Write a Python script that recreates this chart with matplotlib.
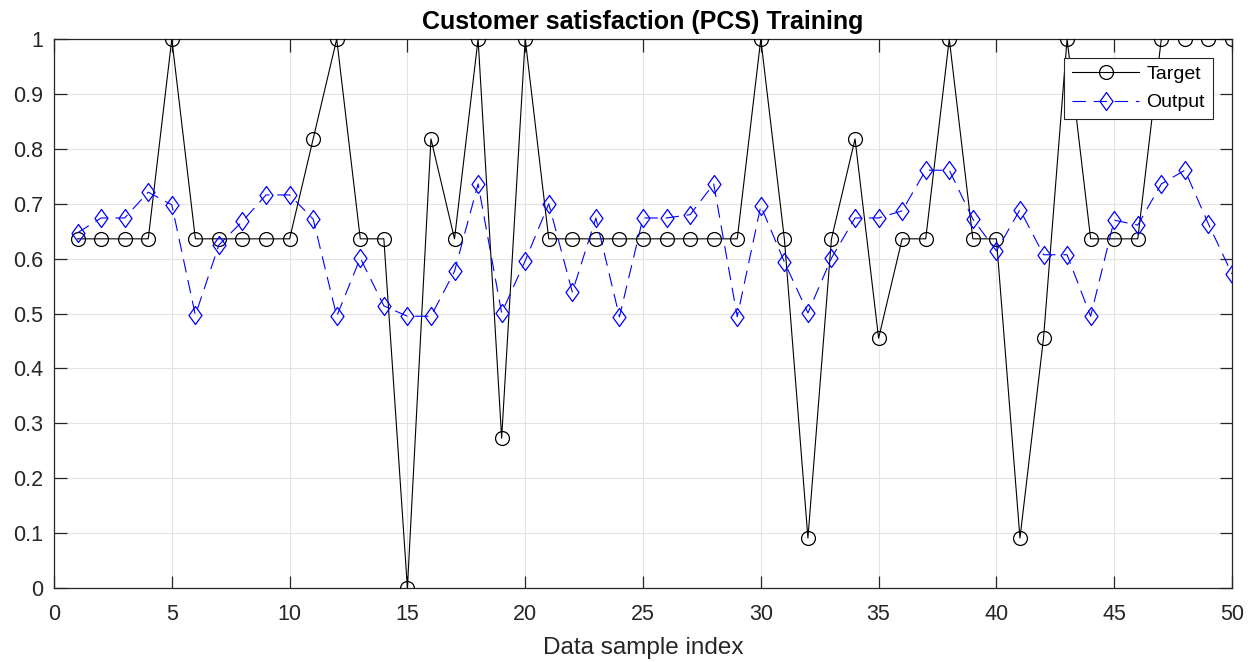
import numpy as np
import matplotlib
matplotlib.use("Agg")
import matplotlib.pyplot as plt
from matplotlib.path import Path

plt.rcParams['font.family'] = ['Liberation Sans', 'DejaVu Sans']

sample_index = list(range(1, 51))

target = [0.636, 0.636, 0.636, 0.636, 1.0, 0.636, 0.636, 0.636, 0.636, 0.636,
          0.818, 1.0, 0.636, 0.636, 0.0, 0.818, 0.636, 1.0, 0.273, 1.0,
          0.636, 0.636, 0.636, 0.636, 0.636, 0.636, 0.636, 0.636, 0.636, 1.0,
          0.636, 0.091, 0.636, 0.818, 0.455, 0.636, 0.636, 1.0, 0.636, 0.636,
          0.091, 0.455, 1.0, 0.636, 0.636, 0.636, 1.0, 1.0, 1.0, 1.0]

output = [0.647, 0.674, 0.674, 0.721, 0.698, 0.497, 0.625, 0.668, 0.716, 0.716,
          0.672, 0.495, 0.601, 0.514, 0.495, 0.495, 0.577, 0.736, 0.501, 0.596,
          0.700, 0.539, 0.674, 0.494, 0.674, 0.674, 0.680, 0.736, 0.494, 0.696,
          0.594, 0.501, 0.601, 0.674, 0.674, 0.687, 0.761, 0.761, 0.672, 0.614,
          0.689, 0.607, 0.607, 0.495, 0.670, 0.661, 0.736, 0.761, 0.663, 0.572]

x_ticks = list(range(0, 51, 5))
y_ticks = [round(v * 0.1, 1) for v in range(0, 11)]

# Diamond marker slightly taller than wide
diamond = Path([(0, 1), (0.72, 0), (0, -1), (-0.72, 0), (0, 1)],
               [Path.MOVETO, Path.LINETO, Path.LINETO, Path.LINETO, Path.CLOSEPOLY])

fig = plt.figure(figsize=(12.55, 6.62), dpi=100)
ax = fig.add_axes([54 / 1255, 1 - 588 / 662, (1232 - 54) / 1255, (588 - 39) / 662])

ax.plot(sample_index, target, color='black', linewidth=0.8, marker='o',
        markersize=10, markerfacecolor='none', markeredgecolor='black',
        markeredgewidth=0.9, label='Target', zorder=3)
ax.plot(sample_index, output, color='blue', linewidth=0.8, linestyle=(0, (12, 7)),
        marker=diamond, markersize=13, markerfacecolor='none', markeredgecolor='blue',
        markeredgewidth=0.9, label='Output', zorder=4)

ax.set_xlim(0, 50)
ax.set_ylim(0, 1)
ax.set_xticks(x_ticks)
ax.set_yticks(y_ticks)
ax.set_yticklabels(['0' if v == 0 else ('1' if v == 1 else f'{v:g}') for v in y_ticks])
ax.tick_params(direction='in', length=9, width=0.9, labelsize=15.5, colors='#262626',
               top=True, right=True)
ax.tick_params(axis='x', pad=11.5)
ax.tick_params(axis='y', pad=8)
ax.grid(True, color='#e3e3e3', linewidth=0.8)
ax.set_axisbelow(True)
for s in ax.spines.values():
    s.set_color('#262626')
    s.set_linewidth(0.9)

ax.set_title('Customer satisfaction (PCS) Training', fontsize=18, fontweight='bold',
             pad=7.5)
ax.set_xlabel('Data sample index', fontsize=17.5, color='#262626', labelpad=9)

leg = ax.legend(loc='upper right', bbox_to_anchor=(0.9835, 0.966), fontsize=14,
                frameon=True, fancybox=False, edgecolor='#262626', framealpha=1,
                handlelength=3.45, borderpad=0.4, labelspacing=0.55, handletextpad=0.36,
                borderaxespad=0)
leg.get_frame().set_linewidth(0.8)

fig.savefig('out.png', dpi=100)
